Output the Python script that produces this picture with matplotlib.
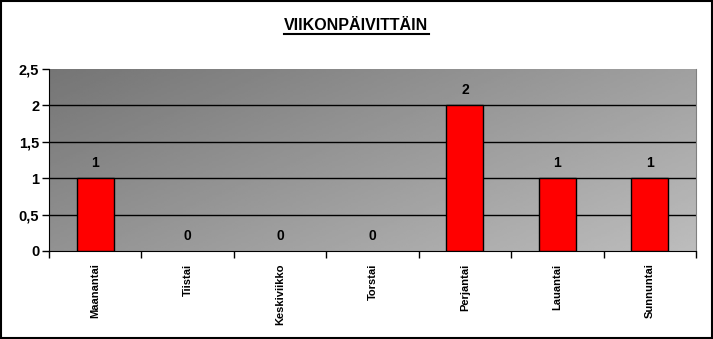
import matplotlib.pyplot as plt
import numpy as np
from matplotlib.patches import Rectangle

paivat = ["Maanantai", "Tiistai", "Keskiviikko", "Torstai",
          "Perjantai", "Lauantai", "Sunnuntai"]
maarat = [1, 0, 0, 0, 2, 1, 1]
y_tikit = [0, 0.5, 1, 1.5, 2, 2.5]
y_tekstit = ["0", "0,5", "1", "1,5", "2", "2,5"]

plt.rcParams['font.family'] = ['Liberation Sans', 'DejaVu Sans']

fig = plt.figure(figsize=(7.13, 3.39), dpi=100)
ax = fig.add_axes([49 / 713, 1 - 251 / 339, 647 / 713, 182 / 339])

# harmaa liukuväri taustaksi: tumma vasen yläkulma, vaalea oikea alakulma
gx, gy = np.meshgrid(np.linspace(0, 1, 200), np.linspace(0, 1, 100))
liuku = 0.46 + 0.28 * (gx * 0.6 + gy * 0.4)
ax.imshow(liuku, cmap='gray', vmin=0, vmax=1, aspect='auto',
          extent=[0, 1, 0, 1], transform=ax.transAxes, origin='upper', zorder=0)

x = np.arange(len(paivat))
reunat = ['black' if m > 0 else 'none' for m in maarat]
ax.bar(x, maarat, width=0.4, color='#ff0000', edgecolor=reunat, linewidth=1, zorder=3)

for xi, m in zip(x, maarat):
    ax.annotate(str(m), (xi, m), xytext=(0, 6), textcoords='offset points',
                ha='center', va='bottom', fontsize=10, fontweight='bold', zorder=4)

ax.set_xlim(-0.5, len(paivat) - 0.5)
ax.set_ylim(0, 2.5)
ax.set_yticks(y_tikit)
ax.set_yticklabels(y_tekstit, fontsize=10.5, fontweight='bold')
for yy in y_tikit[1:-1]:
    ax.axhline(yy, color='black', linewidth=1, zorder=2)

ax.set_xticks(np.arange(len(paivat) + 1) - 0.5, minor=False)
ax.set_xticklabels([])
ax.set_xticks(x, minor=True)
ax.set_xticklabels(paivat, minor=True, rotation=90, fontsize=8, fontweight='bold')
ax.tick_params(axis='x', which='minor', length=0, pad=9)
ax.tick_params(axis='x', which='major', length=5, width=1, direction='out')
ax.tick_params(axis='y', length=5, width=1, direction='out', pad=2)

ax.spines['top'].set_visible(False)
ax.spines['right'].set_color('#808080')
ax.spines['left'].set_color('black')
ax.spines['bottom'].set_color('black')

fig.text(0.5, 1 - 25 / 339, "VIIKONPÄIVITTÄIN", ha='center', va='center',
         fontsize=11.5, fontweight='bold')
# alleviivaus otsikolle
fig.add_artist(plt.Line2D([284 / 713, 429 / 713], [1 - 34 / 339, 1 - 34 / 339],
                          color='black', linewidth=1.5))

fig.add_artist(Rectangle((0.001, 0.002), 0.997, 0.995, transform=fig.transFigure,
                         fill=False, edgecolor='black', linewidth=1.5))

fig.savefig('out.png', dpi=100, facecolor='white')
